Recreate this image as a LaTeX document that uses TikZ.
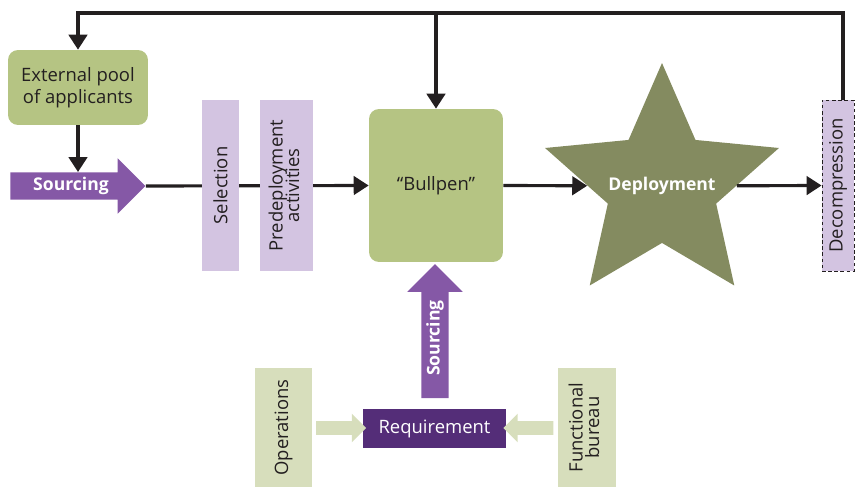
\documentclass[tikz,border=0pt]{standalone}
\usepackage{fontspec}
\setmainfont{Open Sans}
\usetikzlibrary{shapes.geometric,shapes.arrows,arrows.meta,calc}
\definecolor{inkgrey}{RGB}{35,31,32}
\definecolor{poolgreen}{RGB}{181,196,131}
\definecolor{stargreen}{RGB}{132,139,96}
\definecolor{stagelilac}{RGB}{211,196,225}
\definecolor{sourcepurple}{RGB}{133,88,166}
\definecolor{reqpurple}{RGB}{84,45,120}
\definecolor{feedgreen}{RGB}{215,222,188}
\begin{document}
\begin{tikzpicture}[x=0.02cm, y=-0.02cm,
        every node/.style={font=\fontsize{10.5}{12.5}\selectfont, text=inkgrey},
        flow/.style={draw=inkgrey, line width=1.8pt, -{Triangle[width=10.5pt, length=8.5pt]}},
        greenbox/.style={fill=poolgreen, rounded corners=0.2cm, inner sep=0pt, align=center},
        stagebox/.style={fill=stagelilac, minimum height=3.42cm, inner sep=0pt},
        sourcearrow/.style={single arrow, fill=sourcepurple, text=white, font=\fontsize{10}{12}\selectfont\bfseries,
            minimum height=2.7cm, single arrow head extend=0.28cm, inner xsep=0pt, inner ysep=0.09cm},
        feedarrow/.style={single arrow, fill=feedgreen, minimum height=1cm, single arrow head extend=0.15cm,
            inner xsep=0pt, inner ysep=0.13cm},
        feedbox/.style={fill=feedgreen, minimum width=1.16cm, minimum height=2.38cm, inner sep=0pt}]
                \useasboundingbox (0,0) rectangle (855,487);
                \path (843, 13) coordinate (loopR);
                \path (78, 13) coordinate (loopL);
                \node[greenbox, minimum width=2.8cm, minimum height=1.5cm] (pool) at (78, 87.5) {External pool\\of applicants};
                \node[sourcearrow] (src1) at (71, 186) {Sourcing};
                \node[greenbox, minimum width=2.68cm, minimum height=3.06cm] (bull) at (436, 185.5) {“Bullpen”};
                \draw[flow] (src1.tip) -- (bull.west);
                \node[stagebox, minimum width=0.74cm] (sel) at (220.5, 185.5) {\rotatebox{90}{Selection}};
                \node[stagebox, minimum width=1.06cm] (pre) at (286.5, 185.5)
                    {\rotatebox{90}{\begin{tabular}{@{}c@{}}Predeployment\\[-3pt]activities\end{tabular}}};
                \node[star, star points=5, star point ratio=2.16, minimum size=4.92cm, inner sep=0pt, fill=stargreen,
                    label={[text=white, font=\fontsize{10}{12}\selectfont\bfseries]center:Deployment}] (dep) at (662, 186) {};
                \node[stagebox, minimum width=0.64cm, draw=inkgrey, line width=0.5pt, dash pattern=on 2pt off 1.5pt] (dec) at (838, 185.5)
                    {\rotatebox{90}{Decompression}};
                \draw[flow] (bull.east) -- (dep);
                \draw[flow] (dep) -- (dec.west);
                \draw[flow] (dec.north -| loopR) -- (loopR) -- (loopL) -- (pool.north);
                \draw[flow] (bull.north |- loopR) -- (bull.north);
                \draw[flow] (pool.south) -- (pool.south |- src1.north);
                \node[sourcearrow, rotate=90, minimum height=2.68cm] (src2) at (435, 338) {Sourcing};
                \node[fill=reqpurple, text=white, minimum width=2.86cm, minimum height=0.78cm, inner sep=0pt] (req) at (434.5, 428.5) {Requirement};
                \node[feedbox] (ops) at (283.5, 427.5) {\rotatebox{90}{Operations}};
                \node[feedbox] (fun) at (586.5, 427.5)
                    {\rotatebox{90}{\begin{tabular}{@{}c@{}}Functional\\[-3pt]bureau\end{tabular}}};
                \node[feedarrow] (opsfeed) at ($(ops.east)!0.5!(req.west)$) {};
                \node[feedarrow, rotate=180] (funfeed) at ($(fun.west)!0.5!(req.east)$) {};
            \end{tikzpicture}
\end{document}
